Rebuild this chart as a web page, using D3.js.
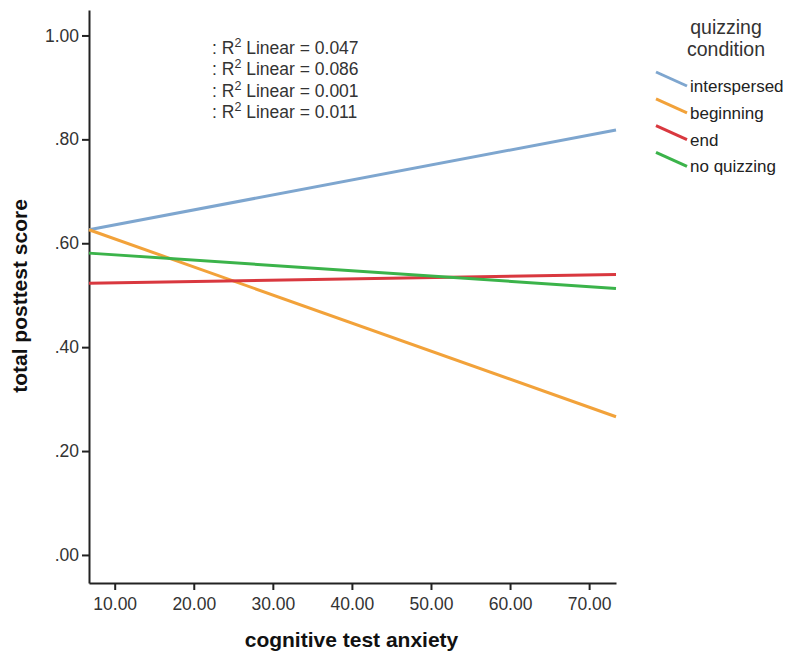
<!DOCTYPE html>
<html>
<head>
<meta charset="utf-8">
<script src="https://cdn.jsdelivr.net/npm/d3@7"></script>
<style>
  body { margin: 0; background: #fff; }
  svg { font-family: "Liberation Sans", Arial, sans-serif; }
  .tick text { fill: #333; font-size: 17.5px; }
  .tick line, .domain { stroke: #222; stroke-width: 2px; }
</style>
</head>
<body>
<svg id="chart"></svg>
<script>
// fit lines: value at min and max anxiety
const conditions = ["interspersed", "beginning", "end", "no quizzing"];
const colors = ["#7ea6cf", "#f2a23a", "#d9383f", "#3bb34a"];
const xExtent = [6.75, 73.4];
const startValues = [0.626, 0.626, 0.523, 0.581];
const endValues = [0.818, 0.266, 0.540, 0.513];
const rSquared = ["0.047", "0.086", "0.001", "0.011"];
const xTicks = [10, 20, 30, 40, 50, 60, 70];
const yTicks = [0, 0.2, 0.4, 0.6, 0.8, 1.0];

const width = 788, height = 656;
const margin = {top: 10, right: 172, bottom: 73, left: 89};
const innerW = width - margin.left - margin.right;
const innerH = height - margin.top - margin.bottom;

const svg = d3.select('#chart')
    .attr('width', width)
    .attr('height', height);

const chart = svg.append('g')
    .attr('transform', `translate(${margin.left},${margin.top})`);

const xScale = d3.scaleLinear().domain(xExtent).range([0, innerW]);
const yScale = d3.scaleLinear().domain([-0.054, 1.049]).range([innerH, 0]);

const fmtY = d => d >= 1 ? d3.format('.2f')(d) : d3.format('.2f')(d).replace(/^0/, '');

chart.append('g')
    .attr('transform', `translate(0,${innerH})`)
    .call(d3.axisBottom(xScale).tickValues(xTicks).tickFormat(d3.format('.2f')).tickSize(7).tickSizeOuter(0).tickPadding(8));

chart.append('g')
    .call(d3.axisLeft(yScale).tickValues(yTicks).tickFormat(fmtY).tickSize(7).tickSizeOuter(0).tickPadding(3));

// fit lines
const lines = conditions.map((c, i) => ({
  name: c,
  color: colors[i],
  pts: [{x: xExtent[0], y: startValues[i]}, {x: xExtent[1], y: endValues[i]}]
}));

const line = d3.line().x(d => xScale(d.x)).y(d => yScale(d.y));

chart.selectAll('.fit')
    .data(lines)
  .join('path')
    .attr('class', 'fit')
    .attr('d', d => line(d.pts))
    .attr('fill', 'none')
    .attr('stroke', d => d.color)
    .attr('stroke-width', 3);

// R squared annotations
const ann = svg.append('g').attr('transform', 'translate(212,54)');
rSquared.forEach((r, i) => {
  const t = ann.append('text')
      .attr('y', i * 21.3)
      .attr('font-size', 17.5)
      .attr('fill', '#333');
  t.append('tspan').text(': R');
  t.append('tspan').attr('dy', -7).attr('font-size', 12.5).text('2');
  t.append('tspan').attr('dy', 7).text(` Linear = ${r}`);
});

// axis titles
svg.append('text')
    .attr('x', margin.left + innerW / 2 - 1)
    .attr('y', 647)
    .attr('text-anchor', 'middle')
    .attr('font-size', 21)
    .attr('font-weight', 'bold')
    .attr('fill', '#111')
    .text('cognitive test anxiety');

svg.append('text')
    .attr('transform', 'translate(27,296) rotate(-90)')
    .attr('text-anchor', 'middle')
    .attr('font-size', 21)
    .attr('font-weight', 'bold')
    .attr('fill', '#111')
    .text('total posttest score');

// legend
const legend = svg.append('g').attr('transform', 'translate(656,0)');
legend.append('text')
    .attr('x', 70).attr('y', 34)
    .attr('text-anchor', 'middle')
    .attr('font-size', 19.5).attr('fill', '#333')
    .text('quizzing');
legend.append('text')
    .attr('x', 70).attr('y', 56)
    .attr('text-anchor', 'middle')
    .attr('font-size', 19.5).attr('fill', '#333')
    .text('condition');

const items = legend.selectAll('.item')
    .data(lines)
  .join('g')
    .attr('class', 'item')
    .attr('transform', (d, i) => `translate(0,${72 + i * 26.8})`);

items.append('line')
    .attr('x1', 0).attr('y1', 0)
    .attr('x2', 31).attr('y2', 14)
    .attr('stroke', d => d.color)
    .attr('stroke-width', 3);

items.append('text')
    .attr('x', 34).attr('y', 20)
    .attr('font-size', 17)
    .attr('fill', '#222')
    .text(d => d.name);
</script>
</body>
</html>
